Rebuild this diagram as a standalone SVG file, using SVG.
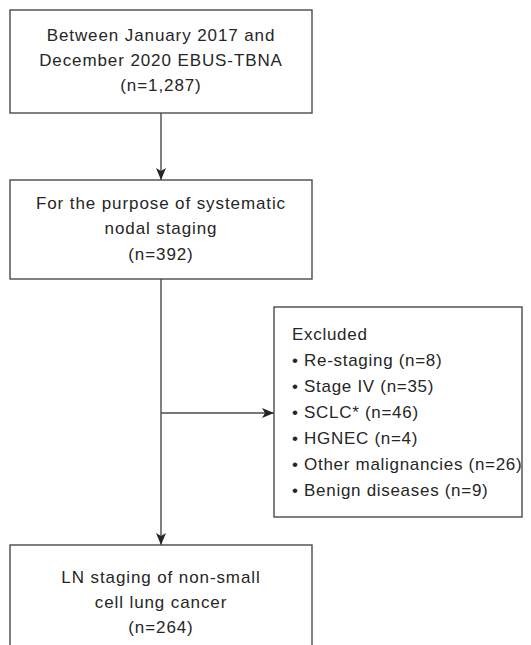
<svg xmlns="http://www.w3.org/2000/svg" width="531" height="645" viewBox="0 0 531 645">
<defs>
<style>
.box{fill:#fff;stroke:#4a4a4a;stroke-width:1.4}
.t{font-family:"Liberation Sans",Arial,sans-serif;font-size:17px;fill:#262626;letter-spacing:0.7px}
.c{text-anchor:middle;letter-spacing:0.9px}
.ln{stroke:#4a4a4a;stroke-width:1.4;fill:none}
</style>
<marker id="ah" viewBox="0 0 12 10" refX="12" refY="5" markerWidth="12" markerHeight="10" markerUnits="userSpaceOnUse" orient="auto">
<path d="M0,0 L12,5 L0,10 L3,5 Z" fill="#262626"/>
</marker>
</defs>
<rect width="531" height="645" fill="#fff"/>
<g id="connectors">
<line class="ln" x1="161" y1="113" x2="161" y2="180" marker-end="url(#ah)"/>
<line class="ln" x1="161" y1="279" x2="161" y2="545" marker-end="url(#ah)"/>
<line class="ln" x1="161" y1="413" x2="274" y2="413" marker-end="url(#ah)"/>
</g>
<g id="node1">
<rect class="box" x="10" y="10" width="302" height="103"/>
<text class="t c" x="161" y="41">Between January 2017 and</text>
<text class="t c" x="161" y="66">December 2020 EBUS-TBNA</text>
<text class="t c" x="161" y="91">(n=1,287)</text>
</g>
<g id="node2">
<rect class="box" x="10" y="180" width="302" height="99"/>
<text class="t c" x="161" y="209">For the purpose of systematic</text>
<text class="t c" x="161" y="234">nodal staging</text>
<text class="t c" x="161" y="260">(n=392)</text>
</g>
<g id="node3">
<rect class="box" x="274" y="307" width="248" height="210"/>
<text class="t" x="292" y="340">Excluded</text>
<text class="t" x="292" y="366">• Re-staging (n=8)</text>
<text class="t" x="292" y="392">• Stage IV (n=35)</text>
<text class="t" x="292" y="418">• SCLC* (n=46)</text>
<text class="t" x="292" y="444">• HGNEC (n=4)</text>
<text class="t" x="292" y="470">• Other malignancies (n=26)</text>
<text class="t" x="292" y="496">• Benign diseases (n=9)</text>
</g>
<g id="node4">
<rect class="box" x="10" y="545" width="302" height="120"/>
<text class="t c" x="161" y="583">LN staging of non-small</text>
<text class="t c" x="161" y="608">cell lung cancer</text>
<text class="t c" x="161" y="633">(n=264)</text>
</g>
</svg>
